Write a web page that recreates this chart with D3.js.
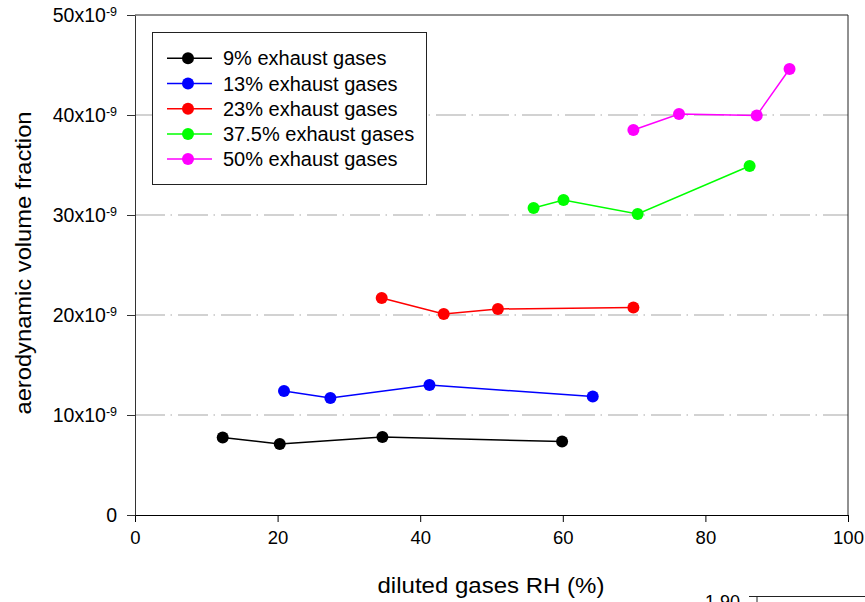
<!DOCTYPE html>
<html>
<head>
<meta charset="utf-8">
<script src="https://cdn.jsdelivr.net/npm/d3@7"></script>
<style>
  body { margin: 0; background: #fff; }
  svg { font-family: "Liberation Sans", Arial, sans-serif; }
</style>
</head>
<body>
<svg width="865" height="602"></svg>
<script>
// values (volume fraction in units of 1e-9)
var seriesNames = ["9% exhaust gases", "13% exhaust gases", "23% exhaust gases", "37.5% exhaust gases", "50% exhaust gases"];
var seriesColors = ["#000000", "#0000ff", "#ff0000", "#00ff00", "#ff00ff"];
var rh9 = [12.3, 20.3, 34.7, 59.9],  vol9 = [7.75, 7.1, 7.8, 7.35];
var rh13 = [20.9, 27.4, 41.3, 64.2], vol13 = [12.4, 11.7, 13.0, 11.85];
var rh23 = [34.6, 43.3, 50.9, 69.9], vol23 = [21.7, 20.1, 20.6, 20.75];
var rh37 = [55.9, 60.1, 70.5, 86.2], vol37 = [30.7, 31.5, 30.1, 34.9];
var rh50 = [69.9, 76.3, 87.2, 91.8], vol50 = [38.5, 40.1, 39.95, 44.6];
var xTicks = [0, 20, 40, 60, 80, 100];
var yTicks = [0, 10, 20, 30, 40, 50];
var gridTicks = [10, 20, 30, 40];

var rhs = [rh9, rh13, rh23, rh37, rh50];
var vols = [vol9, vol13, vol23, vol37, vol50];

var svg = d3.select("svg"),
    margin = {top: 15, right: 17, bottom: 87, left: 135},
    width = +svg.attr("width") - margin.left - margin.right,
    height = +svg.attr("height") - margin.top - margin.bottom;

var x = d3.scaleLinear().domain([0, 100]).range([0, width]),
    y = d3.scaleLinear().domain([0, 50]).range([height, 0]);

var g = svg.append("g")
    .attr("transform", "translate(" + margin.left + "," + margin.top + ")");

// dash-dot grid
g.selectAll(".grid")
    .data(gridTicks)
    .enter().append("line")
    .attr("class", "grid")
    .attr("x1", 0).attr("x2", width)
    .attr("y1", function(d) { return y(d); })
    .attr("y2", function(d) { return y(d); })
    .attr("stroke", "#c4c4c4")
    .attr("stroke-width", 1.5)
    .attr("stroke-dasharray", "30,5.5,1.5,6");

// frame: top and right
g.append("line").attr("x1", 0).attr("x2", width).attr("y1", 0).attr("y2", 0)
    .attr("stroke", "#222").attr("stroke-width", 1);
g.append("line").attr("x1", width).attr("x2", width).attr("y1", 0).attr("y2", height)
    .attr("stroke", "#222").attr("stroke-width", 1);

// x axis
var xAxis = g.append("g")
    .attr("transform", "translate(0," + height + ")")
    .call(d3.axisBottom(x).tickValues(xTicks).tickSize(7).tickPadding(9).tickSizeOuter(0));
xAxis.selectAll("text").attr("font-size", 18.5).attr("fill", "#000").attr("font-family", null);
xAxis.selectAll("line, path").attr("stroke", "#000");

// y axis
var yAxis = g.append("g")
    .call(d3.axisLeft(y).tickValues(yTicks).tickSize(8).tickPadding(10).tickSizeOuter(0));
yAxis.selectAll("line, path").attr("stroke", "#333");
yAxis.selectAll("text")
    .attr("font-size", 19.5).attr("fill", "#000").attr("font-family", null)
    .each(function(d) {
      var t = d3.select(this).text("");
      if (d === 0) { t.append("tspan").text("0"); return; }
      t.append("tspan").text(d + "x10");
      t.append("tspan").attr("font-size", 12.5).attr("dy", "-0.5em").text("-9");
    });

// series
var line = d3.line()
    .x(function(d) { return x(d[0]); })
    .y(function(d) { return y(d[1]); });

seriesNames.forEach(function(name, i) {
  var pts = rhs[i].map(function(r, j) { return [r, vols[i][j]]; });
  g.append("path")
      .datum(pts)
      .attr("fill", "none")
      .attr("stroke", seriesColors[i])
      .attr("stroke-width", 1.5)
      .attr("d", line);
  g.selectAll(".pt" + i)
      .data(pts)
      .enter().append("circle")
      .attr("cx", function(d) { return x(d[0]); })
      .attr("cy", function(d) { return y(d[1]); })
      .attr("r", 6)
      .attr("fill", seriesColors[i]);
});

// legend
var legend = svg.append("g").attr("transform", "translate(152,32)");
legend.append("rect")
    .attr("x", 0.5).attr("y", 0.5).attr("width", 274).attr("height", 152)
    .attr("fill", "#fff").attr("stroke", "#222").attr("stroke-width", 1);
seriesNames.forEach(function(name, i) {
  var ly = 26.3 + i * 25.2;
  legend.append("line").attr("x1", 15).attr("x2", 60).attr("y1", ly).attr("y2", ly)
      .attr("stroke", seriesColors[i]).attr("stroke-width", 1.5);
  legend.append("circle").attr("cx", 36).attr("cy", ly).attr("r", 6).attr("fill", seriesColors[i]);
  legend.append("text").attr("x", 71).attr("y", ly + 7)
      .attr("font-size", 20).attr("fill", "#000").text(name);
});

// axis titles
svg.append("text")
    .attr("x", 491).attr("y", 593)
    .attr("text-anchor", "middle").attr("font-size", 22)
    .attr("textLength", 227).attr("lengthAdjust", "spacingAndGlyphs")
    .text("diluted gases RH (%)");
svg.append("text")
    .attr("transform", "translate(31,263) rotate(-90)")
    .attr("text-anchor", "middle").attr("font-size", 22)
    .attr("textLength", 303).attr("lengthAdjust", "spacingAndGlyphs")
    .text("aerodynamic volume fraction");

// leftover piece of the next panel at bottom right
svg.append("text").attr("x", 740).attr("y", 608).attr("text-anchor", "end")
    .attr("font-size", 18).text("1.90");
svg.append("line").attr("x1", 749).attr("x2", 865).attr("y1", 596.5).attr("y2", 596.5)
    .attr("stroke", "#222");
svg.append("line").attr("x1", 757).attr("x2", 757).attr("y1", 596.5).attr("y2", 602)
    .attr("stroke", "#222");
</script>
</body>
</html>
